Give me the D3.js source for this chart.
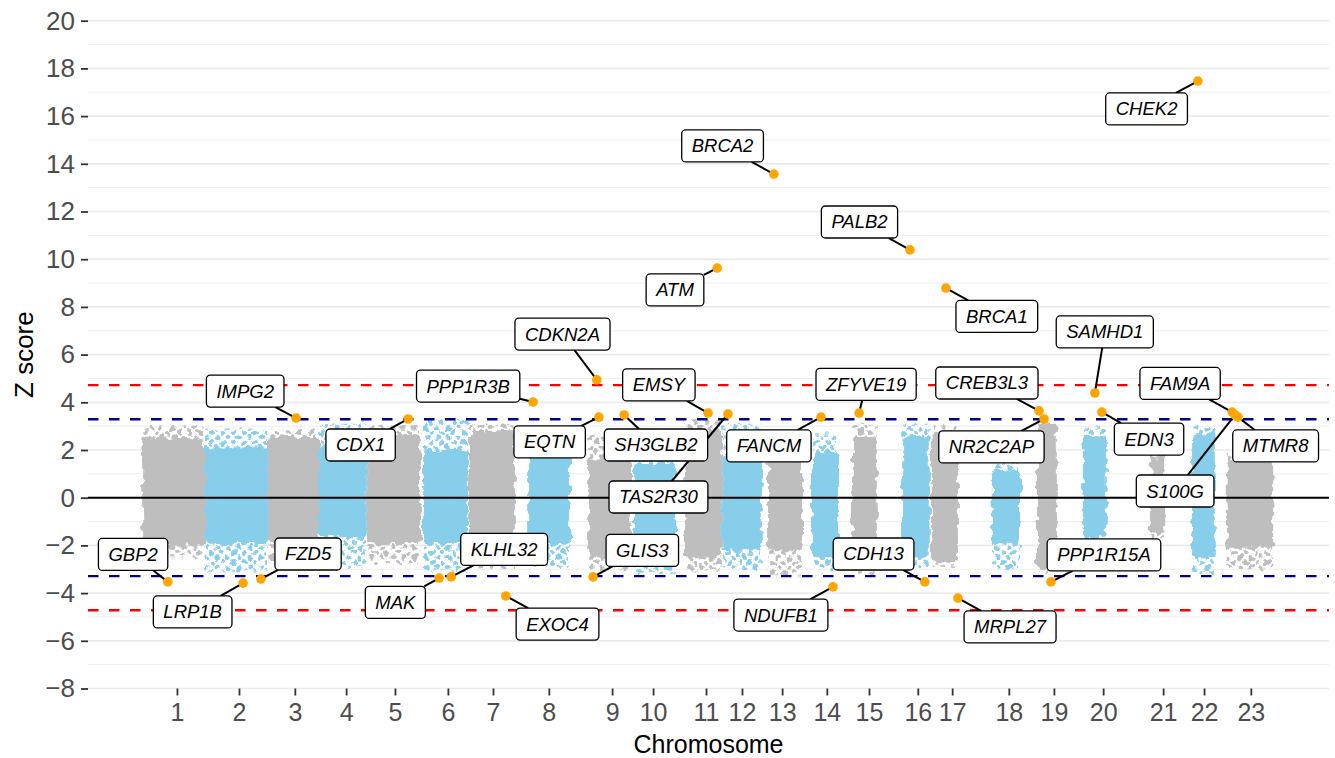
<!DOCTYPE html>
<html>
<head>
<meta charset="utf-8">
<script src="https://cdn.jsdelivr.net/npm/d3@7"></script>
<style>
  body { margin: 0; background: #fff; }
  text { font-family: "Liberation Sans", Arial, sans-serif; }
</style>
</head>
<body>
<svg id="chart" width="1335" height="758"></svg>
<script>
// chromosome axis (cumulative position units)
const chromNames = ["1","2","3","4","5","6","7","8","9","10","11","12","13","14","15","16","17","18","19","20","21","22","23"];
const chromTicks = [215, 365, 500, 624, 742, 870, 979, 1114, 1267, 1366, 1494, 1581, 1678, 1786, 1888, 2006, 2089, 2226, 2335, 2454, 2599, 2698, 2811];

// extent of each chromosome's cloud of gene scores
const cloudStart = [131, 283, 435, 556, 674, 810, 921, 1064, 1209, 1320, 1443, 1533, 1644, 1750, 1847, 1968, 2040, 2185, 2294, 2405, 2567, 2669, 2753];
const cloudEnd   = [283, 435, 556, 674, 803, 919, 1032, 1165, 1315, 1419, 1533, 1629, 1726, 1813, 1907, 2035, 2103, 2253, 2342, 2463, 2604, 2724, 2865];
const coreTop      = [2.5, 2.1, 2.55, 2.2, 2.6, 2.0, 2.75, 1.85, 1.6, 1.45, 2.85, 1.85, 1.6, 1.85, 2.55, 2.55, 2.7, 1.15, 3.1, 2.55, 1.7, 2.7, 1.6];
const coreBottom   = [-2.0, -1.9, -1.9, -1.65, -1.9, -1.9, -2.1, -1.9, -2.5, -2.2, -2.5, -2.2, -2.2, -2.5, -2.75, -2.5, -2.75, -1.9, -2.9, -1.65, -1.5, -2.5, -2.1];
const fringeTop    = [3.05, 2.9, 2.85, 3.1, 3.05, 3.3, 3.1, 2.85, 2.55, 2.1, 3.25, 3.1, 2.3, 2.7, 3.1, 3.1, 3.05, 1.45, 3.25, 2.95, 1.8, 3.0, 1.8];
const fringeBottom = [-2.5, -3.1, -2.6, -2.9, -2.75, -3.1, -3.0, -2.9, -3.0, -3.15, -3.1, -3.0, -3.3, -3.0, -3.2, -3.0, -2.9, -3.0, -3.15, -1.8, -1.7, -3.2, -3.0];

// labelled genes
const geneNames = ["GBP2","LRP1B","FZD5","IMPG2","CDX1","MAK","KLHL32","PPP1R3B","CDKN2A","EQTN","SH3GLB2","EMSY","TAS2R30","FANCM","ZFYVE19","CREB3L3","NR2C2AP","SAMHD1","EDN3","FAM9A","S100G","MTMR8","GLIS3","EXOC4","NDUFB1","CDH13","PPP1R15A","MRPL27","ATM","BRCA2","PALB2","BRCA1","CHEK2"];
const genePos = [193, 375, 418, 503, 774, 849, 878, 1076, 1230, 1235, 1296, 1499, 1547, 1772, 1864, 2299, 2311, 2434, 2451, 2766, 2773, 2780, 1221, 1010, 1801, 2023, 2328, 2103, 1521, 1658, 1987, 2074, 2683];
const geneZ = [-3.53, -3.58, -3.41, 3.34, 3.30, -3.37, -3.32, 4.01, 4.94, 3.38, 3.47, 3.55, 3.51, 3.38, 3.55, 3.64, 3.30, 4.39, 3.59, 3.59, 3.47, 3.38, -3.32, -4.12, -3.74, -3.53, -3.53, -4.21, 9.63, 13.57, 10.39, 8.79, 17.47];
// repelled label anchors (same units as the data)
const labelPos = [109, 253, 532, 380, 659, 743, 1006, 919, 1147, 1116, 1373, 1380, 1379, 1646, 1881, 2173, 2184, 2458, 2565, 2640, 2628, 2871, 1340, 1135, 1675, 1899, 2456, 2229, 1419, 1534, 1865, 2197, 2559];
const labelZ = [-2.38, -4.79, -2.36, 4.47, 2.21, -4.39, -2.17, 4.68, 6.86, 2.34, 2.21, 4.73, 0.03, 2.17, 4.75, 4.81, 2.13, 6.95, 2.46, 4.79, 0.28, 2.17, -2.21, -5.30, -4.92, -2.36, -2.40, -5.42, 8.71, 14.75, 11.56, 7.60, 16.30];

const thresholds = [4.72, 3.29, -3.29, -4.72];
const yMajor = [-8, -6, -4, -2, 0, 2, 4, 6, 8, 10, 12, 14, 16, 18, 20];
const yMinor = [-7, -5, -3, -1, 1, 3, 5, 7, 9, 11, 13, 15, 17, 19];

const svg = d3.select("svg#chart");

const x = d3.scaleLinear().domain([0, 3000]).range([88, 1329]);
const y = d3.scaleLinear().domain([-8, 20]).range([688.5, 20.7]);

const cloudColor = i => (i % 2 === 0 ? "#BEBEBE" : "#87CEEB");

const g = {
  grid: svg.append("g"),
  clouds: svg.append("g"),
  lines: svg.append("g"),
  segments: svg.append("g"),
  points: svg.append("g"),
  labels: svg.append("g"),
  axes: svg.append("g")
};

const defs = svg.append("defs");

// dotted fill for the sparse edge of each cloud
[["dots0", "#BEBEBE"], ["dots1", "#87CEEB"]].forEach(function(p) {
  const pat = defs.append("pattern")
    .attr("id", p[0])
    .attr("width", 11).attr("height", 10)
    .attr("patternUnits", "userSpaceOnUse");
  pat.append("circle").attr("cx", 2.5).attr("cy", 2.5).attr("r", 2.5).attr("fill", p[1]);
  pat.append("circle").attr("cx", 8).attr("cy", 7.5).attr("r", 2.5).attr("fill", p[1]);
});

// ragged edges so the rectangles read like jittered points
const rough = defs.append("filter")
  .attr("id", "rough")
  .attr("x", "-5%").attr("y", "-5%")
  .attr("width", "110%").attr("height", "110%");
rough.append("feTurbulence")
  .attr("type", "fractalNoise")
  .attr("baseFrequency", 0.12)
  .attr("numOctaves", 2)
  .attr("seed", 3)
  .attr("result", "noise");
rough.append("feDisplacementMap")
  .attr("in", "SourceGraphic")
  .attr("in2", "noise")
  .attr("scale", 9)
  .attr("xChannelSelector", "R")
  .attr("yChannelSelector", "G");

g.clouds.attr("filter", "url(#rough)");

// grid
g.grid.selectAll("line.minor")
  .data(yMinor)
  .enter()
  .append("line")
  .attr("x1", x.range()[0]).attr("x2", x.range()[1])
  .attr("y1", d => y(d)).attr("y2", d => y(d))
  .attr("stroke", "#EBEBEB").attr("stroke-width", 0.9);

g.grid.selectAll("line.major")
  .data(yMajor)
  .enter()
  .append("line")
  .attr("x1", x.range()[0]).attr("x2", x.range()[1])
  .attr("y1", d => y(d)).attr("y2", d => y(d))
  .attr("stroke", "#EBEBEB").attr("stroke-width", 1.7);

// clouds
const chroms = chromNames.map((c, i) => ({
  i: i, start: cloudStart[i], end: cloudEnd[i],
  coreTop: coreTop[i], coreBottom: coreBottom[i],
  fringeTop: fringeTop[i], fringeBottom: fringeBottom[i]
}));

g.clouds.selectAll("rect.fringe")
  .data(chroms)
  .enter()
  .append("rect")
  .attr("x", d => x(d.start) + 1)
  .attr("width", d => x(d.end) - x(d.start) - 2)
  .attr("y", d => y(d.fringeTop))
  .attr("height", d => y(d.fringeBottom) - y(d.fringeTop))
  .attr("fill", d => "url(#dots" + (d.i % 2) + ")");

g.clouds.selectAll("rect.core")
  .data(chroms)
  .enter()
  .append("rect")
  .attr("x", d => x(d.start))
  .attr("width", d => x(d.end) - x(d.start))
  .attr("y", d => y(d.coreTop))
  .attr("height", d => y(d.coreBottom) - y(d.coreTop))
  .attr("rx", 4)
  .attr("fill", d => cloudColor(d.i));

// threshold lines
g.lines.selectAll("line.thr")
  .data(thresholds)
  .enter()
  .append("line")
  .attr("x1", x.range()[0]).attr("x2", x.range()[1])
  .attr("y1", d => y(d)).attr("y2", d => y(d))
  .attr("stroke", d => Math.abs(d) > 4 ? "#FF0000" : "#00008B")
  .attr("stroke-width", 2.4)
  .attr("stroke-dasharray", "10.5,10.5");

g.lines.append("line")
  .attr("x1", x.range()[0]).attr("x2", x.range()[1])
  .attr("y1", y(0)).attr("y2", y(0))
  .attr("stroke", "#000").attr("stroke-width", 2);

// highlighted genes
const genes = geneNames.map((n, i) => ({
  name: n, pos: genePos[i], z: geneZ[i], lpos: labelPos[i], lz: labelZ[i]
}));

g.points.selectAll("circle")
  .data(genes)
  .enter()
  .append("circle")
  .attr("cx", d => x(d.pos))
  .attr("cy", d => y(d.z))
  .attr("r", 4.8)
  .attr("fill", "#FFA500");

const labelH = 32;
const label = g.labels.selectAll("g.label")
  .data(genes)
  .enter()
  .append("g")
  .attr("class", "label")
  .attr("transform", d => translate(x(d.lpos), y(d.lz)));

label.append("text")
  .attr("text-anchor", "middle")
  .attr("y", 6.5)
  .attr("font-size", 18.5)
  .attr("font-style", "italic")
  .attr("fill", "#000")
  .text(d => d.name)
  .each(function(d) { d.w = this.getComputedTextLength() + 20; });

label.insert("rect", "text")
  .attr("x", d => -d.w / 2)
  .attr("y", -labelH / 2)
  .attr("width", d => d.w)
  .attr("height", labelH)
  .attr("rx", 4)
  .attr("fill", "#fff")
  .attr("stroke", "#000")
  .attr("stroke-width", 1.3);

g.segments.selectAll("line")
  .data(genes)
  .enter()
  .append("line")
  .each(function(d) {
    const cx = x(d.lpos), cy = y(d.lz);
    const px = x(d.pos), py = y(d.z);
    const e = boxEdge(cx, cy, d.w, labelH, px, py);
    d3.select(this)
      .attr("x1", e[0]).attr("y1", e[1])
      .attr("x2", px).attr("y2", py);
  })
  .attr("stroke", "#000")
  .attr("stroke-width", 2);

// axes
const yAxis = d3.axisLeft(y)
  .tickValues(yMajor)
  .tickSize(7)
  .tickPadding(6);

g.axes.append("g")
  .attr("transform", translate(x.range()[0], 0))
  .call(yAxis)
  .call(a => a.select(".domain").remove())
  .call(a => a.selectAll(".tick line").attr("stroke", "#333").attr("stroke-width", 1.8))
  .call(a => a.selectAll(".tick text")
    .attr("font-size", 26).attr("fill", "#4D4D4D")
    .attr("font-family", "'Liberation Sans', Arial, sans-serif"));

const xAxis = d3.axisBottom(x)
  .tickValues(chromTicks)
  .tickFormat((d, i) => chromNames[i])
  .tickSize(7)
  .tickPadding(8);

g.axes.append("g")
  .attr("transform", translate(0, y.range()[0]))
  .call(xAxis)
  .call(a => a.select(".domain").remove())
  .call(a => a.selectAll(".tick line").attr("stroke", "#333").attr("stroke-width", 1.8))
  .call(a => a.selectAll(".tick text")
    .attr("font-size", 25).attr("fill", "#4D4D4D")
    .attr("font-family", "'Liberation Sans', Arial, sans-serif"));

g.axes.append("text")
  .attr("transform", translate(33, (y.range()[0] + y.range()[1]) / 2) + " rotate(-90)")
  .attr("text-anchor", "middle")
  .attr("font-size", 26)
  .attr("fill", "#000")
  .text("Z score");

g.axes.append("text")
  .attr("x", (x.range()[0] + x.range()[1]) / 2)
  .attr("y", 753)
  .attr("text-anchor", "middle")
  .attr("font-size", 25)
  .attr("fill", "#000")
  .text("Chromosome");

function boxEdge(cx, cy, w, h, px, py) {
  const dx = px - cx, dy = py - cy;
  const tx = dx !== 0 ? (w / 2) / Math.abs(dx) : Infinity;
  const ty = dy !== 0 ? (h / 2) / Math.abs(dy) : Infinity;
  const t = Math.min(tx, ty, 1);
  return [cx + dx * t, cy + dy * t];
}

function translate(x, y) {
  return "translate(" + String(x) + "," + String(y) + ")";
}
</script>
</body>
</html>
